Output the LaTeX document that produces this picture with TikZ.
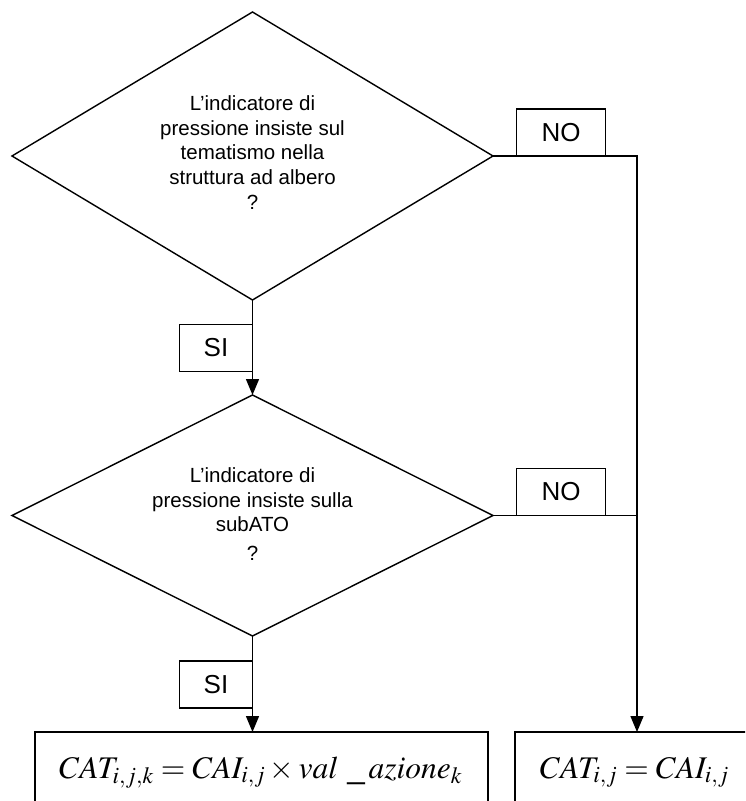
\documentclass[tikz,border=0pt]{standalone}
\usepackage{mathptmx}
\usepackage[no-math]{fontspec}
\setmainfont{Liberation Sans}
\usetikzlibrary{shapes.geometric,arrows.meta}
\begin{document}
\begin{tikzpicture}[x=1pt,y=-1pt, line width=1.4pt,
  every node/.style={inner sep=0pt, outer sep=0pt},
  decision/.style={draw, diamond, minimum width=481pt},
  tag/.style={draw, font=\fontsize{26}{28}\selectfont, minimum width=89pt, minimum height=47pt},
  sitag/.style={draw, font=\fontsize{26}{28}\selectfont, minimum width=73pt, minimum height=47pt},
  qtext/.style={align=center, font=\fontsize{20.5}{24.75}\selectfont},
  result/.style={draw, rectangle},
  formula/.style={font=\fontsize{31.5}{38}\selectfont},
  arr/.style={-{Triangle[length=16pt,width=13pt]}}
]
\clip (0,0) rectangle (745,801);
% decisions
\node[decision, minimum height=288pt] (d1) at (252.5,156) {};
\node[decision, minimum height=241pt] (d2) at (252.5,515.5) {};
\node[qtext] (q1) at (252.5,152.5) {L’indicatore di\\pressione insiste sul\\tematismo nella\\struttura ad albero\\?};
\node[qtext] (q2) at (252.5,514) {L’indicatore di\\pressione insiste sulla\\subATO\\[4pt]?};
% results
\node[result, minimum width=453pt, minimum height=98pt] (b1) at (261.5,781) {};
\node[result, minimum width=255pt, minimum height=98pt] (b2) at (642.5,781) {};
\node[formula, anchor=base east] (f1) at (462,778) {$CAT_{i,j,k} = CAI_{i,j}\times val\ \_\,azione_k$};
\node[formula, anchor=base west] (f2) at (540,778) {$CAT_{i,j} = CAI_{i,j}$};
% junctions
\coordinate (c1) at (637,156);
\coordinate (c2) at (637,515.5);
% connectors
\draw[arr] (d1.south) -- (d2.north);
\draw[arr] (d1.east) -- (c1) -- (c1 |- b2.north);
\draw (d2.east) -- (c2);
\draw[arr] (d2.south) -- (d2.south |- b1.north);
% labels
\node[tag] (no1) at (561,132.5) {NO};
\node[tag] (no2) at (561,492) {NO};
\node[sitag] (si1) at (216,348) {SI};
\node[sitag] (si2) at (216,684.5) {SI};
\end{tikzpicture}
\end{document}
